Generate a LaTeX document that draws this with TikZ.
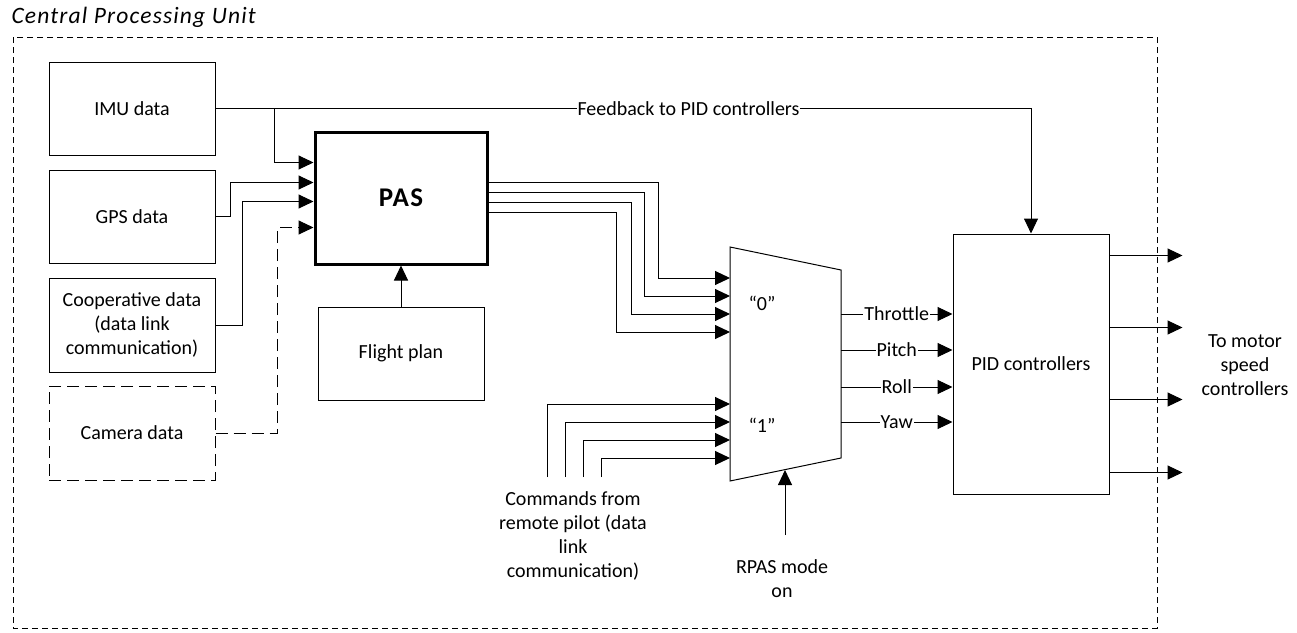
\documentclass[tikz,border=0pt]{standalone}
\usepackage{fontspec}
\setmainfont{Carlito}
\newfontfamily\spacedfont[LetterSpace=5]{Carlito}
\usetikzlibrary{arrows.meta,calc}
\begin{document}
\begin{tikzpicture}[x=1pt,y=-1pt,
  font=\fontsize{20}{24}\selectfont,
  line width=1pt,
  arr/.style={-{Triangle[length=15pt,width=14pt]}},
  blk/.style={draw,rectangle,align=center,inner sep=0pt,minimum width=166pt,minimum height=93pt},
  lbl/.style={fill=white,inner sep=1pt},
  txt/.style={align=center,inner sep=0pt}
]
\useasboundingbox (0,0) rectangle (1297,632);
% frame
\draw[dash pattern=on 6pt off 4pt] (13,37) rectangle (1157,628);
\node[anchor=west,inner sep=0pt,font=\spacedfont\fontsize{23.5}{28}\selectfont\itshape] (title) at (11,17) {Central Processing Unit};

% blocks
\node[blk] (imu) at (132,108.5) {IMU data};
\node[blk] (gps) at (132,216.5) {GPS data};
\node[blk,minimum height=94pt] (coop) at (132,325) {Cooperative data\\(data link\\communication)};
\node[blk,minimum height=94pt,dash pattern=on 12pt off 6pt] (cam) at (132,433) {Camera data};
\node[blk,line width=3pt,minimum width=172pt,minimum height=132pt,font=\spacedfont\fontsize{27}{30}\selectfont\bfseries] (pas) at (401,198) {PAS};
\node[blk] (flight) at (401,353.5) {Flight plan};
\node[blk,minimum width=156pt,minimum height=260pt] (pid) at (1031,364) {PID controllers};

% mux
\coordinate (mtl) at (730,247);
\coordinate (mtr) at (841,270);
\coordinate (mbr) at (841,458);
\coordinate (mbl) at (730,481);
\draw (mtl) -- (mtr) -- (mbr) -- (mbl) -- cycle;
\node[txt] (zero) at (762,303) {“0”};
\node[txt] (one) at (762,425) {“1”};

% inputs to PAS
\draw[arr] (imu.east) -- ++(59,0) |- ($(pas.north west)+(0,32)$);
\draw[arr] (gps.east) -- ++(15,0) |- ($(pas.north west)+(0,52)$);
\draw[arr] (coop.east) -- ++(27,0) |- ($(pas.north west)+(0,71)$);
\draw[arr,dash pattern=on 12pt off 6pt] (cam.east) -- ++(62,0) |- ($(pas.north west)+(0,97)$);
\draw[arr] (flight.north) -- (pas.south);

% feedback
\draw[arr] (imu.east) -- node[lbl,pos=0.58] {Feedback to PID controllers} (imu.east -| pid.north) -- (pid.north);

% PAS to mux "0"
\coordinate (a1) at (730,278);
\coordinate (a2) at (730,296);
\coordinate (a3) at (730,314);
\coordinate (a4) at (730,332);
\draw[arr] ($(pas.north east)+(0,52)$) -| ($(a1)+(-72,0)$) -- (a1);
\draw[arr] ($(pas.north east)+(0,62)$) -| ($(a2)+(-86,0)$) -- (a2);
\draw[arr] ($(pas.north east)+(0,72)$) -| ($(a3)+(-99,0)$) -- (a3);
\draw[arr] ($(pas.north east)+(0,82)$) -| ($(a4)+(-114,0)$) -- (a4);

% commands to mux "1"
\coordinate (b1) at (730,404);
\coordinate (b2) at (730,422);
\coordinate (b3) at (730,440);
\coordinate (b4) at (730,458);
\coordinate (c1) at (547,477);
\coordinate (c2) at (565,477);
\coordinate (c3) at (583,477);
\coordinate (c4) at (601,477);
\draw[arr] (c1) |- (b1);
\draw[arr] (c2) |- (b2);
\draw[arr] (c3) |- (b3);
\draw[arr] (c4) |- (b4);
\node[txt] (cmd) at (573,536) {Commands from\\remote pilot (data\\link\\communication)};

% RPAS mode
\coordinate (rp) at (785,535);
\coordinate (rpt) at (785,470);
\draw[arr] (rp) -- (rpt);
\node[txt] (rpas) at (782,579) {RPAS mode\\on};

% mux outputs
\coordinate (o1) at (841,314);
\coordinate (o2) at (841,350);
\coordinate (o3) at (841,387);
\coordinate (o4) at (841,422);
\draw[arr] (o1) -- node[lbl] {Throttle} (o1 -| pid.west);
\draw[arr] (o2) -- node[lbl] {Pitch} (o2 -| pid.west);
\draw[arr] (o3) -- node[lbl] {Roll} (o3 -| pid.west);
\draw[arr] (o4) -- node[lbl] {Yaw} (o4 -| pid.west);

% PID outputs
\draw[arr] ($(pid.north east)+(0,22)$) -- ++(73,0);
\draw[arr] ($(pid.north east)+(0,94)$) -- ++(73,0);
\draw[arr] ($(pid.north east)+(0,166)$) -- ++(73,0);
\draw[arr] ($(pid.north east)+(0,239)$) -- ++(73,0);
\node[txt] (motor) at (1245,365) {To motor\\speed\\controllers};
\end{tikzpicture}
\end{document}
